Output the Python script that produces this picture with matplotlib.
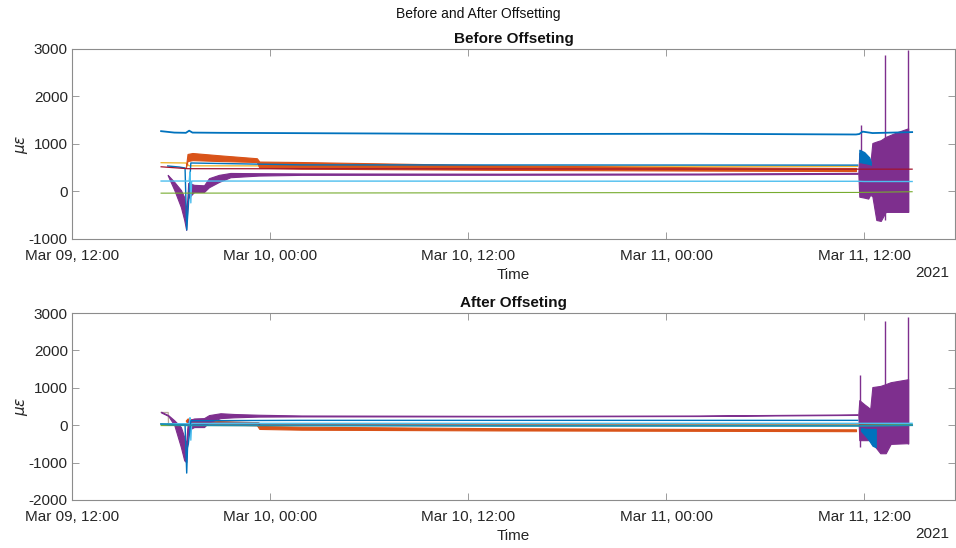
import matplotlib
matplotlib.use("Agg")
import matplotlib.pyplot as plt
import matplotlib.dates as mdates
import pandas as pd

plt.rcParams['font.family'] = ['Liberation Sans', 'DejaVu Sans']
plt.rcParams['axes.unicode_minus'] = False

T0 = pd.Timestamp('2021-03-09 12:00')

# colours (matlab default order)
BLUE = '#0072BD'
ORANGE = '#D95319'
YELLOW = '#EDB120'
PURPLE = '#7E2F8E'
GREEN = '#77AC30'
CYAN = '#4DBEEE'
RED = '#A2142F'

# ---- before offsetting (hours after Mar 09 12:00, microstrain) ----
b_blue_t = [5.4, 6.2, 6.9, 7.1, 7.3, 9.0, 26.0, 38.0, 47.5, 47.7, 47.9, 48.5, 50.9]
b_blue_v = [1270, 1240, 1235, 1280, 1240, 1235, 1210, 1215, 1200, 1210, 1260, 1230, 1250]
b_blue2_t = [5.8, 6.5, 6.85, 6.95, 7.05, 7.2, 13.9, 47.6]
b_blue2_v = [537, 515, 495, -810, -300, 600, 560, 555]
b_yel_t = [5.4, 6.9, 7.1, 47.6]
b_yel_v = [606, 600, 540, 530]
b_red_t = [5.4, 7.0, 47.6, 50.9]
b_red_v = [520, 480, 470, 470]
b_cyan_t = [5.4, 7.1, 7.15, 7.2, 7.25, 47.6, 48.0, 50.9]
b_cyan_v = [220, 220, 410, -240, 220, 215, 210, 210]
b_green_t = [5.4, 47.6, 50.9]
b_green_v = [-35, -20, -5]

b_orange_t = [6.9, 7.0, 7.3, 9.0, 11.2, 11.35, 13.9, 26.0, 38.0, 47.5]
b_orange_hi = [520, 790, 810, 760, 700, 630, 620, 550, 510, 495]
b_orange_lo = [500, 640, 660, 640, 620, 500, 480, 455, 440, 430]

b_purple_t = [5.8, 6.2, 6.6, 6.8, 6.92, 6.98, 7.04, 7.4, 8.0, 8.3, 8.9, 9.6, 11.3, 13.9, 26.0, 38.0, 47.6]
b_purple_hi = [350, 200, 30, -120, -390, -200, 180, 140, 130, 280, 350, 390, 385, 380, 375, 378, 392]
b_purple_lo = [340, 30, -330, -600, -810, -400, -140, -10, -10, 90, 200, 300, 335, 350, 352, 358, 372]

b_dist_t = [47.64, 47.7, 48.0, 48.24, 48.36, 48.49, 48.73, 49.0, 49.3, 50.0, 50.66]
b_dist_hi = [390, 810, 760, 700, 560, 1020, 1050, 1080, 1150, 1250, 1330]
b_dist_lo = [380, -110, -130, -150, -70, -100, -600, -620, -430, -430, -430]
b_dblue_t = [47.7, 48.0, 48.3, 48.4]
b_dblue_hi = [880, 830, 720, 620]
b_dblue_lo = [620, 600, 580, 560]
b_spike_t = [47.82, 49.27, 50.66]
b_spike_lo = [-110, -600, -430]
b_spike_hi = [1400, 2870, 2980]

# ---- after offsetting ----
a_blue_t = [5.4, 7.0, 26.0, 47.6, 50.9]
a_blue_v = [30, 0, -20, -20, 0]
a_blue2_t = [5.8, 6.85, 6.95, 7.0, 7.05, 7.2, 13.9, 47.6]
a_blue2_v = [20, 0, -1280, -600, -500, 120, 130, 130]
a_yel_t = [5.4, 5.83, 5.85, 47.6]
a_yel_v = [340, 340, 20, 0]
a_red_t = [5.4, 7.0, 7.3, 11.3, 11.4, 47.6, 50.9]
a_red_v = [40, 30, 60, 40, 0, 0, 0]
a_red_band_t = [7.2, 11.3]
a_red_band_hi = [90, 80]
a_red_band_lo = [10, 0]
a_cyan_t = [5.4, 7.1, 7.15, 7.2, 7.25, 47.6, 50.9]
a_cyan_v = [40, 40, 200, -400, 50, 50, 50]
a_green_t = [5.4, 47.6, 50.9]
a_green_v = [-10, 0, 20]

a_orange_t = [6.9, 7.0, 7.3, 9.0, 11.2, 11.35, 13.9, 26.0, 38.0, 47.5]
a_orange_hi = [130, 180, 150, 110, 80, -20, -40, -80, -100, -110]
a_orange_lo = [110, 60, 30, 20, 0, -100, -120, -140, -150, -160]

a_purple_t = [5.4, 5.83, 6.2, 6.6, 6.8, 6.92, 6.98, 7.04, 7.4, 8.0, 8.3, 9.0, 9.8, 11.3, 13.9, 26.0, 38.0, 47.6]
a_purple_hi = [360, 270, 130, -50, -320, -500, -100, 130, 180, 190, 270, 320, 300, 280, 260, 250, 260, 290]
a_purple_lo = [340, 250, 0, -590, -940, -990, -500, -130, -50, -50, 80, 190, 210, 230, 235, 235, 245, 275]

a_dist_t = [47.64, 47.7, 48.0, 48.24, 48.36, 48.49, 48.97, 49.3, 49.6, 50.66]
a_dist_hi = [290, 670, 560, 480, 430, 1020, 1050, 1100, 1150, 1230]
a_dist_lo = [280, -400, -400, -400, -350, -480, -750, -750, -500, -480]
a_dblue_t = [47.8, 48.2, 48.5, 48.7]
a_dblue_hi = [-80, -100, -100, -100]
a_dblue_lo = [-150, -350, -550, -590]
a_spike_t = [47.76, 49.27, 50.66]
a_spike_lo = [-590, -700, -500]
a_spike_hi = [1340, 2780, 2900]


def tt(hours):
    return (T0 + pd.to_timedelta(hours, unit='h')).to_numpy()


def band(ax, t, lo, hi, color, z=2):
    ax.fill_between(tt(t), lo, hi, color=color, edgecolor=color, lw=0.8, zorder=z)


def style(ax, title, yticks):
    ax.set_title(title, fontweight='bold', fontsize=11, pad=4, color='#111111')
    ax.set_xlim(T0, T0 + pd.Timedelta(hours=53.5))
    ax.set_ylim(yticks[0], yticks[-1])
    ax.set_yticks(yticks)
    ax.xaxis.set_major_locator(mdates.HourLocator(byhour=[0, 12]))
    ax.xaxis.set_major_formatter(mdates.DateFormatter('%b %d, %H:%M'))
    ax.tick_params(direction='in', top=True, right=True, length=5, width=0.6,
                   labelsize=11, colors='#8c8c8c', labelcolor='#262626', pad=3)
    ax.tick_params(axis='x', pad=7)
    for s in ax.spines.values():
        s.set_color('#8c8c8c')
        s.set_linewidth(0.8)
    ax.set_xlabel('Time', fontsize=11, color='#262626', labelpad=4)
    ax.set_ylabel(r'$\mu\epsilon$', fontsize=11, color='#262626')
    ax.yaxis.set_label_coords(-0.048, 0.5)
    ax.annotate('2021', xy=(1, 0), xycoords='axes fraction', xytext=(-4, -24.5),
                textcoords='offset points', ha='right', va='center', fontsize=11,
                color='#262626')


fig = plt.figure(figsize=(9.56, 5.48), dpi=100)
ax1 = fig.add_axes([0.0753, 0.5639, 0.9237, 0.3467])
ax2 = fig.add_axes([0.0753, 0.0876, 0.9237, 0.3412])
fig.suptitle('Before and After Offsetting', y=0.987, fontsize=10, color='#111111')

# before
ax1.plot(tt(b_yel_t), b_yel_v, color=YELLOW, lw=0.9, zorder=1.5)
band(ax1, b_orange_t, b_orange_lo, b_orange_hi, ORANGE)
band(ax1, b_purple_t, b_purple_lo, b_purple_hi, PURPLE)
band(ax1, b_dist_t, b_dist_lo, b_dist_hi, PURPLE)
band(ax1, b_dblue_t, b_dblue_lo, b_dblue_hi, BLUE, z=2.5)
ax1.vlines(tt(b_spike_t), b_spike_lo, b_spike_hi, color=PURPLE, lw=1.0, zorder=2)
ax1.plot(tt(b_blue_t), b_blue_v, color=BLUE, lw=1.3, zorder=3)
ax1.plot(tt(b_blue2_t), b_blue2_v, color=BLUE, lw=1.0, zorder=3)
ax1.plot(tt(b_red_t), b_red_v, color=RED, lw=0.9, zorder=3)
ax1.plot(tt(b_cyan_t), b_cyan_v, color=CYAN, lw=1.0, zorder=3)
ax1.plot(tt(b_green_t), b_green_v, color=GREEN, lw=0.8, zorder=3)
style(ax1, 'Before Offseting', [-1000, 0, 1000, 2000, 3000])

# after
ax2.plot(tt(a_yel_t), a_yel_v, color='#b8a89a', lw=0.9, zorder=1.5)
band(ax2, a_orange_t, a_orange_lo, a_orange_hi, ORANGE)
band(ax2, a_red_band_t, a_red_band_lo, a_red_band_hi, '#9b6f6f', z=2.2)
band(ax2, a_purple_t, a_purple_lo, a_purple_hi, PURPLE, z=2.4)
band(ax2, a_dist_t, a_dist_lo, a_dist_hi, PURPLE)
band(ax2, a_dblue_t, a_dblue_lo, a_dblue_hi, BLUE, z=2.5)
ax2.vlines(tt(a_spike_t), a_spike_lo, a_spike_hi, color=PURPLE, lw=1.0, zorder=2)
ax2.plot(tt(a_red_t), a_red_v, color=RED, lw=0.9, zorder=3)
ax2.plot(tt(a_green_t), a_green_v, color=GREEN, lw=0.8, zorder=3)
ax2.plot(tt(a_cyan_t), a_cyan_v, color=CYAN, lw=1.0, zorder=3)
ax2.plot(tt(a_blue2_t), a_blue2_v, color=BLUE, lw=1.0, zorder=3)
ax2.plot(tt(a_blue_t), a_blue_v, color='#1f8fb0', lw=1.3, zorder=3)
style(ax2, 'After Offseting', [-2000, -1000, 0, 1000, 2000, 3000])

fig.savefig('out.png', dpi=100)
